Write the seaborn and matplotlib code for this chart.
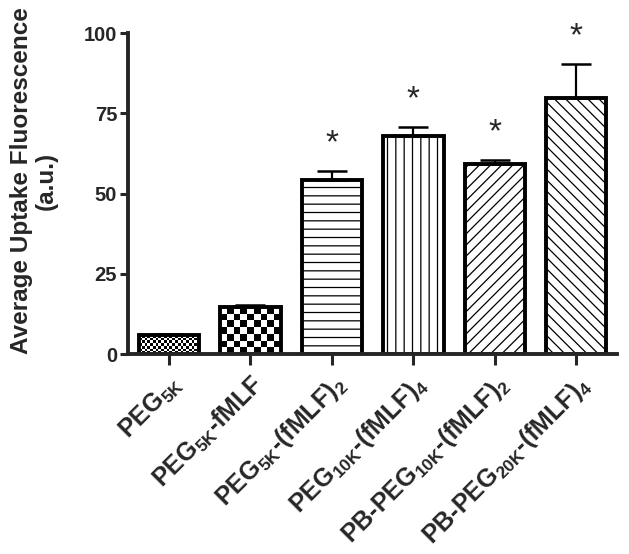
import numpy as np
import pandas as pd
import matplotlib
matplotlib.use("Agg")
import matplotlib.pyplot as plt
import seaborn as sns

# values
groups = ["PEG5K", "PEG5K-fMLF", "PEG5K-(fMLF)2", "PEG10K-(fMLF)4",
          "PB-PEG10K-(fMLF)2", "PB-PEG20K-(fMLF)4"]
tick_labels = [r"PEG$_{5K}$", r"PEG$_{5K}$-fMLF", r"PEG$_{5K}$-(fMLF)$_{2}$",
               r"PEG$_{10K}$-(fMLF)$_{4}$", r"PB-PEG$_{10K}$-(fMLF)$_{2}$",
               r"PB-PEG$_{20K}$-(fMLF)$_{4}$"]
uptake = [5.9, 14.6, 54.2, 68.0, 59.2, 79.9]
sem = [0.3, 0.7, 2.7, 2.7, 1.3, 10.4]
significant = [False, False, True, True, True, True]
yticks = [0, 25, 50, 75, 100]

# fill style per bar: checker square size in pixels, or a hatch
checker_px = [2.8, 6.8, None, None, None, None]
hatches = [None, None, "--", "||", "///", "\\\\\\"]

sns.set_style("ticks")
plt.rcParams["font.family"] = ["Liberation Sans", "DejaVu Sans"]
plt.rcParams["font.weight"] = "bold"
plt.rcParams["mathtext.fontset"] = "custom"
plt.rcParams["mathtext.default"] = "bf"
plt.rcParams["mathtext.bf"] = "Liberation Sans:bold"
plt.rcParams["mathtext.rm"] = "Liberation Sans:bold"
plt.rcParams["hatch.color"] = "#333333"
plt.rcParams["hatch.linewidth"] = 0.9

fig = plt.figure(figsize=(6.29, 5.54), dpi=100)
ax = fig.add_axes([0.204, 0.361, 0.777, 0.579])

df = pd.DataFrame({"group": groups, "uptake": uptake})
sns.barplot(data=df, x="group", y="uptake", color="white", edgecolor="black",
            linewidth=2.8, width=0.74, errorbar=None, ax=ax)

ax.set_xlim(-0.5, 5.5)
ax.set_ylim(0, 100)

# pixel size of one data unit, used to size the checker squares
ax_w_px = 0.777 * 629
ax_h_px = 0.579 * 554
for patch, hatch, sq in zip(ax.patches, hatches, checker_px):
    patch.set_zorder(2)
    if hatch:
        patch.set_hatch(hatch)
    if sq:
        patch.set_facecolor("none")
        x0, y0 = patch.get_x(), patch.get_y()
        w, h = patch.get_width(), patch.get_height()
        n_c = max(1, int(round(w * ax_w_px / 6 / sq)))
        n_r = max(1, int(round(h * ax_h_px / 100 / sq)))
        grid = np.add.outer(np.arange(n_r), np.arange(n_c)) % 2
        im = ax.imshow(grid, extent=(x0, x0 + w, y0, y0 + h), cmap="gray_r",
                       interpolation="nearest", aspect="auto", zorder=1)
        im.set_clip_path(patch)

ax.set_xlim(-0.5, 5.5)
ax.set_ylim(0, 100)

x = np.arange(len(groups))
ax.errorbar(x, uptake, yerr=[np.zeros(len(sem)), sem], fmt="none",
            ecolor="black", elinewidth=1.6, capsize=11, capthick=1.8, zorder=3)

for i, (u, s, sig) in enumerate(zip(uptake, sem, significant)):
    if sig:
        ax.text(i, u + s + 8.5, "*", ha="center", va="center", fontsize=24,
                fontweight="normal")

sns.despine(ax=ax)
for side in ["left", "bottom"]:
    ax.spines[side].set_linewidth(2.8)

ax.set_yticks(yticks)
ax.set_xticks(x)
ax.set_xticklabels(tick_labels, rotation=45, ha="right", va="top",
                   rotation_mode="anchor", fontsize=18)
ax.tick_params(axis="y", length=6, width=2.2, labelsize=14.5, pad=2)
ax.tick_params(axis="x", length=8, width=2.2, pad=4)
ax.set_xlabel("")
ax.set_ylabel("Average Uptake Fluorescence\n(a.u.)", fontsize=17.5,
              fontweight="bold", va="center", multialignment="center",
              linespacing=1.1)
ax.yaxis.set_label_coords(-0.193, 0.54)

fig.savefig("out.png", dpi=100)
